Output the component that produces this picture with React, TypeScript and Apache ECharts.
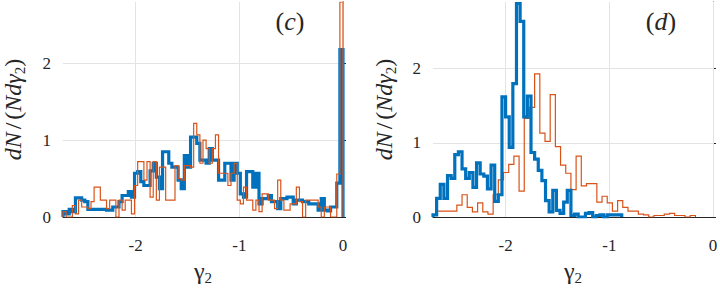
import React, { useEffect, useRef } from "react";
import * as echarts from "echarts";

// Panel (c): bins of width 0.03 starting at -2.7
const cStart = -2.7;
const cBin = 0.03;
const blueC = [
  0.07, 0.04, 0.10, 0.07, 0.25, 0.25, 0.22, 0.20, 0.10, 0.10,
  0.10, 0.10, 0.10, 0.10, 0.09, 0.09, 0.13, 0.13, 0.20, 0.28,
  0.28, 0.33, 0.26, 0.57, 0.59, 0.46, 0.41, 0.41, 0.60, 0.70,
  0.52, 0.37, 0.85, 0.85, 0.70, 0.65, 0.65, 0.48, 0.37, 0.80,
  0.65, 1.04, 1.04, 0.96, 0.74, 0.74, 0.70, 0.89, 0.74, 0.74,
  0.48, 0.48, 0.70, 0.70, 0.48, 0.70, 0.57, 0.30, 0.26, 0.59,
  0.59, 0.39, 0.57, 0.17, 0.24, 0.24, 0.28, 0.20, 0.20, 0.11,
  0.24, 0.24, 0.26, 0.26, 0.17, 0.22, 0.22, 0.20, 0.20, 0.17,
  0.17, 0.17, 0.09, 0.24, 0.09, 0.08, 0.13, 0.13, 0.44, 2.18,
];
const orangeC = [
  0.07, 0.00, 0.00, 0.15, 0.04, 0.22, 0.13, 0.13, 0.11, 0.20,
  0.39, 0.39, 0.22, 0.22, 0.11, 0.22, 0.22, 0.00, 0.22, 0.09,
  0.22, 0.22, 0.04, 0.41, 0.72, 0.72, 0.48, 0.72, 0.26, 0.72,
  0.22, 0.65, 0.65, 0.22, 0.22, 0.22, 0.67, 0.50, 0.48, 0.67,
  0.67, 0.65, 1.22, 1.07, 0.70, 1.00, 0.89, 0.70, 0.89, 1.07,
  0.57, 0.57, 0.57, 0.41, 0.57, 0.70, 0.22, 0.17, 0.39, 0.22,
  0.22, 0.09, 0.22, 0.07, 0.30, 0.30, 0.22, 0.22, 0.11, 0.48,
  0.22, 0.09, 0.09, 0.17, 0.17, 0.39, 0.20, 0.00, 0.22, 0.22,
  0.22, 0.22, 0.13, 0.00, 0.13, 0.13, 0.00, 0.00, 0.56, 2.80,
];

// Panel (d)
const dBlueStart = -2.7;
const dBlueBin = 0.035;
const blueD = [
  0.03, 0.25, 0.44, 0.25, 0.56, 0.52, 0.84, 0.88, 0.65, 0.52,
  0.60, 0.40, 0.73, 0.58, 0.55, 0.38, 0.70, 0.21, 0.30, 1.62,
  1.35, 0.94, 1.80, 2.88, 2.64, 1.35, 1.63, 0.87, 0.78, 0.63,
  0.49, 0.22, 0.07, 0.36, 0.09, 0.05, 0.20, 0.36, 0.02, 0.04,
  0.00, 0.00, 0.05, 0.06, 0.00, 0.02, 0.03, 0.00, 0.03, 0.03,
  0.03, 0.03,
];
const dOrangeStart = -2.72;
const dOrangeBin = 0.05;
const orangeD = [
  0.02, 0.08, 0.08, 0.08, 0.08, 0.16, 0.30, 0.13, 0.07, 0.19,
  0.07, 0.04, 0.30, 0.50, 0.60, 0.71, 0.82, 0.35, 1.33, 1.48,
  1.93, 1.13, 1.02, 1.65, 0.95, 0.70, 0.59, 0.37, 0.82, 0.42,
  0.45, 0.45, 0.20, 0.28, 0.19, 0.08, 0.22, 0.13, 0.08, 0.08,
  0.04, 0.03, 0.00, 0.02, 0.02, 0.04, 0.05, 0.02, 0.02, 0.00,
  0.02,
];

const xTicks = [-2, -1, 0];
const yTicks = [0, 1, 2];
const xRange = [-2.7, 0];
const yMaxC = 2.8;
const yMaxD = 2.9;

const BLUE = "#0072BD";
const ORANGE = "#D95319";
const INK = "#262626";
const GRID = "#e3e3e3";
const FONT = "Liberation Serif";

function stepData(start: number, width: number, vals: number[]) {
  const pts: number[][] = [[start, 0]];
  vals.forEach((v, i) => pts.push([start + i * width, v]));
  const end = start + vals.length * width;
  pts.push([end, vals[vals.length - 1]]);
  pts.push([end, 0]);
  return pts;
}

function gridMarks() {
  return {
    silent: true,
    symbol: "none",
    z: 1,
    label: { show: false },
    lineStyle: { color: GRID, type: "solid", width: 1 },
    data: [
      ...xTicks.map((v) => ({ xAxis: v })),
      ...yTicks.filter((v) => v > 0).map((v) => ({ yAxis: v })),
    ],
  };
}

const subRich = {
  i: { fontStyle: "italic", fontFamily: FONT, fontSize: 24, color: INK },
  n: { fontFamily: FONT, fontSize: 24, color: INK },
  s: { fontFamily: FONT, fontSize: 15, color: INK, padding: [14, 0, 0, 0] },
};

function xAxisOpt(gridIndex: number) {
  return {
    type: "value",
    gridIndex,
    min: xRange[0],
    max: xRange[1],
    name: "{n|γ}{s|2}",
    nameLocation: "middle",
    nameGap: 38,
    nameTextStyle: { fontFamily: FONT, rich: subRich },
    axisLine: { show: true, lineStyle: { color: INK, width: 1 } },
    axisTick: { show: true, inside: true, length: 3, customValues: xTicks, lineStyle: { color: INK } },
    axisLabel: {
      customValues: xTicks,
      margin: 20,
      fontFamily: FONT,
      fontSize: 17,
      color: INK,
      formatter: (v: number) => String(v),
    },
    splitLine: { show: false },
  };
}

function yAxisOpt(gridIndex: number, max: number, gap: number) {
  return {
    type: "value",
    gridIndex,
    min: 0,
    max,
    name: "{i|dN} {n|/} {n|(}{i|Nd}{i|γ}{s|2}{n|)}",
    nameLocation: "middle",
    nameRotate: 90,
    nameGap: gap,
    nameTextStyle: { fontFamily: FONT, rich: subRich },
    axisLine: { show: true, lineStyle: { color: INK, width: 1 } },
    axisTick: { show: true, inside: true, length: 3, customValues: yTicks, lineStyle: { color: INK } },
    axisLabel: {
      customValues: yTicks,
      margin: 12,
      padding: [16, 0, 0, 0],
      fontFamily: FONT,
      fontSize: 17,
      color: INK,
      formatter: (v: number) => String(v),
    },
    splitLine: { show: false },
  };
}

function histSeries(idx: number, data: number[][], color: string, width: number, z: number, marks?: boolean) {
  const s: any = {
    type: "line",
    xAxisIndex: idx,
    yAxisIndex: idx,
    data,
    step: "end",
    symbol: "none",
    showSymbol: false,
    z,
    lineStyle: { color, width, join: "miter" },
    itemStyle: { color },
    silent: true,
  };
  if (marks) s.markLine = gridMarks();
  return s;
}

function panelLabel(letter: string, x: number) {
  return {
    type: "text",
    x,
    y: 21,
    style: {
      text: `{n|(}{i|${letter}}{n|)}`,
      fontFamily: FONT,
      fontSize: 26,
      fill: INK,
      align: "center",
      verticalAlign: "middle",
      rich: {
        n: { fontFamily: FONT, fontSize: 26, fill: INK },
        i: { fontStyle: "italic", fontFamily: FONT, fontSize: 26, fill: INK },
      },
    },
  };
}

export default function App() {
  const ref = useRef<HTMLDivElement>(null);
  useEffect(() => {
    if (!ref.current) return;
    const chart = echarts.init(ref.current, null, { renderer: "svg" });
    chart.setOption({
      animation: false,
      backgroundColor: "#ffffff",
      textStyle: { fontFamily: FONT },
      grid: [
        { left: 63, top: 2, width: 280, height: 215, containLabel: false, outerBoundsMode: "none" },
        { left: 433, top: 2, width: 280, height: 215, containLabel: false, outerBoundsMode: "none" },
      ],
      xAxis: [xAxisOpt(0), xAxisOpt(1)],
      yAxis: [yAxisOpt(0, yMaxC, 36), yAxisOpt(1, yMaxD, 35)],
      series: [
        histSeries(0, stepData(cStart, cBin, blueC), BLUE, 3.2, 2, true),
        histSeries(0, stepData(cStart, cBin, orangeC), ORANGE, 1.2, 3),
        histSeries(1, stepData(dOrangeStart, dOrangeBin, orangeD), ORANGE, 1.2, 2, true),
        histSeries(1, stepData(dBlueStart, dBlueBin, blueD), BLUE, 3.2, 3),
      ],
      graphic: [panelLabel("c", 290), panelLabel("d", 661)],
    });
    return () => chart.dispose();
  }, []);
  return (
    <div
      ref={ref}
      style={{ position: "fixed", left: 0, top: 0, width: 720, height: 293, background: "#fff" }}
    />
  );
}
